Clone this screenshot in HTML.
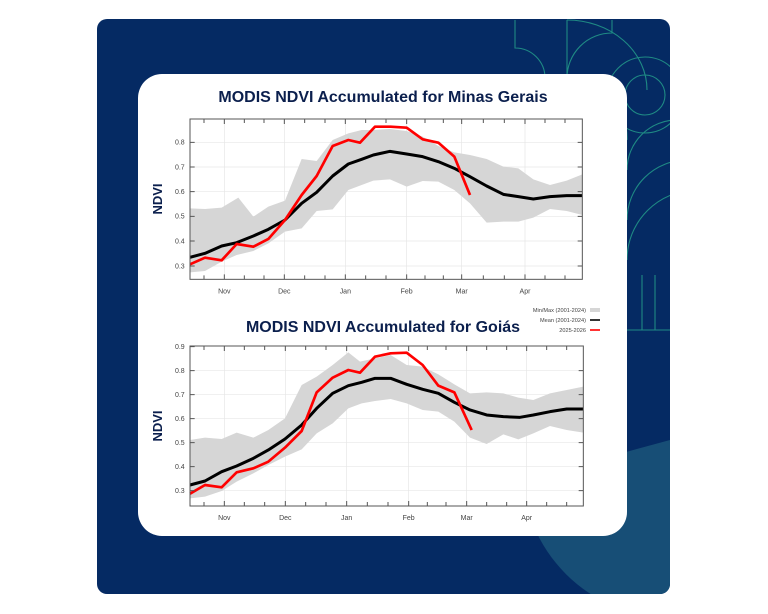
<!DOCTYPE html>
<html><head><meta charset="utf-8"><style>
html,body{margin:0;padding:0;background:#fff;width:768px;height:614px;overflow:hidden}
svg{display:block}
text{font-family:"Liberation Sans",sans-serif}
</style></head><body>
<svg width="768" height="614" viewBox="0 0 768 614" xmlns="http://www.w3.org/2000/svg">
<defs><clipPath id="pc"><rect x="97" y="19" width="573" height="575" rx="10"/></clipPath>
<clipPath id="lc"><path d="M97 540 L560 470 L670 440 L670 594 L97 594Z"/></clipPath></defs>
<rect x="97" y="19" width="573" height="575" rx="10" fill="#052a63"/>
<g clip-path="url(#pc)" fill="none" stroke="#1f8a84" stroke-width="1.1">
<path d="M515 20 V48 A30 30 0 0 1 545 78 H555"/>
<path d="M567 20 V78 A45 45 0 0 1 612 33 V20"/>
<path d="M567 20 A80 70 0 0 1 647 90 M567 78 A60 60 0 0 1 627 140"/>
<circle cx="645" cy="95" r="20"/><circle cx="645" cy="95" r="38"/>
<path d="M627 170 A50 50 0 0 1 677 120 M627 220 A60 60 0 0 1 687 160 M627 260 A70 70 0 0 1 697 190"/>
<path d="M627 330 H670 M642 275 V330 M655 275 V330"/>
</g>
<g clip-path="url(#pc)"><g clip-path="url(#lc)"><circle cx="672" cy="468" r="150" fill="#174e76"/></g></g>
<rect x="138" y="74" width="489" height="462" rx="24" fill="#fff"/>

<text x="383" y="102" text-anchor="middle" font-size="16" font-weight="bold" fill="#0b1f4d">MODIS NDVI Accumulated for Minas Gerais</text>
<text x="383" y="332" text-anchor="middle" font-size="16" font-weight="bold" fill="#0b1f4d">MODIS NDVI Accumulated for Goiás</text>
<text transform="translate(162,199) rotate(-90)" text-anchor="middle" font-size="13" font-weight="bold" fill="#0b1f4d">NDVI</text>
<text transform="translate(162,426) rotate(-90)" text-anchor="middle" font-size="13" font-weight="bold" fill="#0b1f4d">NDVI</text>

<g font-size="5.6" fill="#444" text-anchor="end">
<text x="586" y="312">Min/Max (2001-2024)</text>
<text x="586" y="322">Mean (2001-2024)</text>
<text x="586" y="332">2025-2026</text>
</g>
<rect x="590" y="308" width="10" height="4" fill="#d6d6d6"/>
<line x1="590" y1="320" x2="600" y2="320" stroke="#000" stroke-width="1.6"/>
<line x1="590" y1="330" x2="600" y2="330" stroke="#f00" stroke-width="1.6"/>

<g transform="translate(140,80) scale(0.33333)">
<g stroke="#e6e6e6" stroke-width="2">
<path d="M253 117V598M433 117V598M616 117V598M800 117V598M965 117V598M1155 117V598"/>
<path d="M150 187H1327M150 261H1327M150 335H1327M150 409H1327M150 483H1327M150 558H1327"/>
</g>
<polygon fill="#d6d6d6" points="150,385 195,387 245,383 295,353 340,410 385,380 435,362 485,237 530,243 578,180 625,160 665,150 700,150 750,147 800,153 848,170 895,198 943,217 990,225 1040,237 1090,260 1135,265 1180,298 1230,315 1280,302 1327,283 1327,405 1280,393 1230,387 1180,413 1135,425 1090,425 1040,428 990,370 943,330 895,305 848,303 800,320 750,298 700,302 665,315 625,330 578,388 530,393 485,445 435,455 385,490 340,513 290,525 245,545 195,573 150,577"/>
<polyline fill="none" stroke="#000" stroke-width="9" stroke-linejoin="round" points="150,532 195,520 245,498 290,488 340,468 385,448 435,420 485,370 530,337 578,288 625,252 665,238 700,225 750,214 800,222 848,230 895,245 943,265 990,290 1040,318 1090,343 1135,350 1180,357 1230,350 1280,347 1327,347"/>
<polyline fill="none" stroke="#f00" stroke-width="8" stroke-linejoin="round" points="150,553 195,533 245,541 290,492 340,500 385,477 435,420 485,345 530,288 578,198 625,180 660,188 705,140 752,140 800,143 848,178 895,188 943,230 990,345"/>
<rect x="150" y="117" width="1177" height="481" fill="none" stroke="#555" stroke-width="3"/>
<g stroke="#555" stroke-width="3">
<path d="M192 598v-12M253 598v-15M313 598v-12M372 598v-12M433 598v-15M494 598v-12M555 598v-12M616 598v-15M677 598v-12M738 598v-12M800 598v-15M855 598v-12M910 598v-12M965 598v-15M1030 598v-12M1093 598v-12M1155 598v-15M1215 598v-12M1275 598v-12"/>
<path d="M192 117v12M253 117v15M313 117v12M372 117v12M433 117v15M494 117v12M555 117v12M616 117v15M677 117v12M738 117v12M800 117v15M855 117v12M910 117v12M965 117v15M1030 117v12M1093 117v12M1155 117v15M1215 117v12M1275 117v12"/>
<path d="M150 187h14M150 261h14M150 335h14M150 409h14M150 483h14M150 558h14M1327 187h-14M1327 261h-14M1327 335h-14M1327 409h-14M1327 483h-14M1327 558h-14"/>
</g>
<g font-size="21" fill="#444" text-anchor="end">
<text x="134" y="194">0.8</text><text x="134" y="268">0.7</text><text x="134" y="342">0.6</text><text x="134" y="416">0.5</text><text x="134" y="490">0.4</text><text x="134" y="565">0.3</text>
</g>
<g font-size="21" fill="#444" text-anchor="middle">
<text x="253" y="640">Nov</text><text x="433" y="640">Dec</text><text x="616" y="640">Jan</text><text x="800" y="640">Feb</text><text x="965" y="640">Mar</text><text x="1155" y="640">Apr</text>
</g>
</g>

<g transform="translate(140,295) scale(0.33333)">
<g stroke="#e6e6e6" stroke-width="2">
<path d="M253 153V633M436 153V633M620 153V633M806 153V633M980 153V633M1160 153V633"/>
<path d="M150 227H1330M150 299H1330M150 371H1330M150 443H1330M150 515H1330M150 587H1330"/>
</g>
<polygon fill="#d6d6d6" points="150,435 195,428 245,432 290,413 340,428 385,405 435,370 485,270 530,245 578,210 625,172 660,200 705,190 752,180 800,210 848,215 895,238 943,268 990,295 1040,292 1090,295 1135,308 1180,315 1230,295 1280,285 1330,275 1330,413 1280,405 1230,393 1180,415 1135,433 1090,418 1040,447 990,428 943,380 895,350 848,345 800,325 752,312 705,318 665,325 625,340 578,385 530,415 485,463 435,485 385,510 340,535 290,560 245,588 195,605 150,610"/>
<polyline fill="none" stroke="#000" stroke-width="9" stroke-linejoin="round" points="150,570 195,558 245,530 290,513 340,490 385,465 435,432 485,390 530,340 578,295 625,272 665,262 705,250 752,250 800,268 848,283 895,295 943,322 990,345 1040,360 1090,365 1140,367 1180,360 1230,350 1280,342 1330,342"/>
<polyline fill="none" stroke="#f00" stroke-width="8" stroke-linejoin="round" points="150,596 195,570 245,577 290,532 340,520 385,500 435,458 485,408 530,292 578,248 625,225 660,233 705,185 752,175 800,173 848,210 895,272 943,292 995,405"/>
<rect x="150" y="153" width="1180" height="480" fill="none" stroke="#555" stroke-width="3"/>
<g stroke="#555" stroke-width="3">
<path d="M192 633v-12M253 633v-15M313 633v-12M374 633v-12M436 633v-15M497 633v-12M558 633v-12M620 633v-15M682 633v-12M744 633v-12M806 633v-15M862 633v-12M918 633v-12M980 633v-15M1040 633v-12M1100 633v-12M1160 633v-15M1220 633v-12M1280 633v-12"/>
<path d="M192 153v12M253 153v15M313 153v12M374 153v12M436 153v15M497 153v12M558 153v12M620 153v15M682 153v12M744 153v12M806 153v15M862 153v12M918 153v12M980 153v15M1040 153v12M1100 153v12M1160 153v15M1220 153v12M1280 153v12"/>
<path d="M150 155h14M150 227h14M150 299h14M150 371h14M150 443h14M150 515h14M150 587h14M1330 227h-14M1330 299h-14M1330 371h-14M1330 443h-14M1330 515h-14M1330 587h-14"/>
</g>
<g font-size="21" fill="#444" text-anchor="end">
<text x="134" y="162">0.9</text><text x="134" y="234">0.8</text><text x="134" y="306">0.7</text><text x="134" y="378">0.6</text><text x="134" y="450">0.5</text><text x="134" y="522">0.4</text><text x="134" y="594">0.3</text>
</g>
<g font-size="21" fill="#444" text-anchor="middle">
<text x="253" y="675">Nov</text><text x="436" y="675">Dec</text><text x="620" y="675">Jan</text><text x="806" y="675">Feb</text><text x="980" y="675">Mar</text><text x="1160" y="675">Apr</text>
</g>
</g>
</svg>
</body></html>
